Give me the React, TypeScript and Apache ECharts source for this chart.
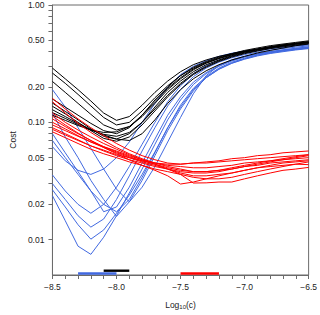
import React, { useEffect, useRef } from 'react';
import * as echarts from 'echarts';

const X = [-8.5, -8.4, -8.3, -8.2, -8.1, -8.0, -7.9, -7.8, -7.7, -7.6, -7.5, -7.4, -7.3, -7.2, -7.1, -7.0, -6.9, -6.8, -6.7, -6.6, -6.5];

const BLACK = [
  [0.29, 0.235, 0.19, 0.152, 0.12, 0.104, 0.112, 0.14, 0.18, 0.225, 0.27, 0.31, 0.34, 0.365, 0.385, 0.405, 0.42, 0.44, 0.455, 0.47, 0.48],
  [0.263, 0.215, 0.173, 0.138, 0.11, 0.095, 0.1, 0.125, 0.162, 0.205, 0.25, 0.29, 0.325, 0.355, 0.38, 0.4, 0.42, 0.435, 0.45, 0.465, 0.478],
  [0.223, 0.18, 0.145, 0.117, 0.095, 0.086, 0.092, 0.115, 0.15, 0.195, 0.24, 0.285, 0.32, 0.35, 0.375, 0.4, 0.42, 0.44, 0.455, 0.47, 0.485],
  [0.158, 0.135, 0.115, 0.098, 0.085, 0.08, 0.09, 0.115, 0.155, 0.2, 0.25, 0.295, 0.33, 0.36, 0.385, 0.41, 0.43, 0.45, 0.465, 0.48, 0.495],
  [0.146, 0.124, 0.105, 0.088, 0.076, 0.072, 0.08, 0.1, 0.135, 0.18, 0.225, 0.27, 0.31, 0.34, 0.37, 0.395, 0.415, 0.435, 0.45, 0.465, 0.478],
  [0.137, 0.118, 0.1, 0.085, 0.073, 0.069, 0.075, 0.095, 0.125, 0.165, 0.21, 0.255, 0.295, 0.33, 0.36, 0.385, 0.405, 0.425, 0.44, 0.455, 0.47],
  [0.128, 0.112, 0.098, 0.087, 0.078, 0.072, 0.07, 0.08, 0.105, 0.145, 0.19, 0.235, 0.275, 0.31, 0.34, 0.365, 0.39, 0.41, 0.43, 0.45, 0.465],
  [0.121, 0.108, 0.096, 0.086, 0.079, 0.076, 0.082, 0.1, 0.13, 0.17, 0.215, 0.26, 0.3, 0.335, 0.365, 0.39, 0.41, 0.43, 0.448, 0.463, 0.476],
  [0.115, 0.104, 0.094, 0.086, 0.082, 0.083, 0.092, 0.112, 0.145, 0.19, 0.235, 0.28, 0.32, 0.35, 0.378, 0.4, 0.42, 0.44, 0.458, 0.472, 0.488],
];

const BLUE = [
  [0.19, 0.135, 0.09, 0.06, 0.04, 0.027, 0.021, 0.028, 0.042, 0.068, 0.11, 0.175, 0.25, 0.305, 0.342, 0.366, 0.384, 0.398, 0.41, 0.42, 0.43],
  [0.062, 0.047, 0.039, 0.036, 0.04, 0.05, 0.068, 0.1, 0.145, 0.2, 0.255, 0.3, 0.335, 0.365, 0.388, 0.405, 0.42, 0.433, 0.444, 0.454, 0.462],
  [0.12, 0.075, 0.05, 0.032, 0.022, 0.0158, 0.021, 0.032, 0.052, 0.085, 0.13, 0.185, 0.24, 0.285, 0.32, 0.348, 0.372, 0.39, 0.405, 0.418, 0.43],
  [0.0237, 0.0145, 0.0088, 0.0075, 0.0105, 0.016, 0.025, 0.04, 0.065, 0.105, 0.155, 0.21, 0.26, 0.3, 0.333, 0.36, 0.382, 0.4, 0.415, 0.428, 0.44],
  [0.0266, 0.019, 0.0134, 0.0101, 0.0121, 0.0168, 0.024, 0.036, 0.056, 0.09, 0.135, 0.19, 0.24, 0.283, 0.318, 0.345, 0.368, 0.386, 0.4, 0.414, 0.425],
  [0.03, 0.022, 0.016, 0.0128, 0.015, 0.022, 0.035, 0.057, 0.09, 0.138, 0.19, 0.245, 0.29, 0.326, 0.355, 0.378, 0.396, 0.412, 0.426, 0.437, 0.448],
  [0.0356, 0.026, 0.02, 0.0168, 0.02, 0.028, 0.042, 0.065, 0.1, 0.15, 0.205, 0.26, 0.305, 0.34, 0.368, 0.39, 0.408, 0.423, 0.436, 0.447, 0.456],
  [0.08, 0.055, 0.038, 0.026, 0.0173, 0.019, 0.028, 0.045, 0.072, 0.115, 0.165, 0.22, 0.265, 0.305, 0.337, 0.362, 0.382, 0.4, 0.413, 0.425, 0.436],
  [0.07, 0.05, 0.036, 0.026, 0.02, 0.0173, 0.022, 0.034, 0.055, 0.09, 0.14, 0.195, 0.245, 0.29, 0.325, 0.352, 0.375, 0.393, 0.407, 0.42, 0.432],
];

const RED = [
  [0.16, 0.13, 0.107, 0.09, 0.077, 0.066, 0.058, 0.052, 0.048, 0.045, 0.044, 0.045, 0.046, 0.047, 0.049, 0.05, 0.052, 0.053, 0.055, 0.056, 0.057],
  [0.15, 0.12, 0.098, 0.082, 0.07, 0.061, 0.054, 0.049, 0.045, 0.042, 0.04, 0.038, 0.038, 0.039, 0.041, 0.043, 0.045, 0.047, 0.049, 0.051, 0.053],
  [0.12, 0.1, 0.086, 0.075, 0.066, 0.059, 0.053, 0.048, 0.044, 0.04, 0.036, 0.0304, 0.0305, 0.031, 0.031, 0.033, 0.035, 0.037, 0.039, 0.04, 0.0413],
  [0.113, 0.095, 0.081, 0.07, 0.061, 0.054, 0.048, 0.043, 0.039, 0.035, 0.0298, 0.031, 0.033, 0.035, 0.037, 0.039, 0.041, 0.042, 0.043, 0.044, 0.0436],
  [0.107, 0.092, 0.08, 0.07, 0.062, 0.056, 0.051, 0.047, 0.044, 0.041, 0.039, 0.038, 0.038, 0.039, 0.04, 0.042, 0.043, 0.045, 0.046, 0.047, 0.048],
  [0.1, 0.088, 0.077, 0.068, 0.061, 0.055, 0.05, 0.046, 0.043, 0.04, 0.037, 0.035, 0.035, 0.036, 0.037, 0.039, 0.041, 0.043, 0.045, 0.046, 0.047],
  [0.095, 0.085, 0.076, 0.068, 0.062, 0.057, 0.052, 0.048, 0.045, 0.043, 0.042, 0.041, 0.041, 0.042, 0.043, 0.045, 0.046, 0.047, 0.048, 0.049, 0.05],
  [0.09, 0.08, 0.071, 0.063, 0.057, 0.052, 0.048, 0.045, 0.042, 0.04, 0.038, 0.037, 0.037, 0.038, 0.04, 0.042, 0.044, 0.046, 0.048, 0.05, 0.052],
  [0.087, 0.078, 0.07, 0.063, 0.058, 0.053, 0.05, 0.047, 0.045, 0.044, 0.044, 0.045, 0.045, 0.046, 0.047, 0.048, 0.049, 0.05, 0.051, 0.052, 0.053],
  [0.083, 0.074, 0.066, 0.059, 0.054, 0.05, 0.046, 0.043, 0.04, 0.038, 0.036, 0.034, 0.033, 0.033, 0.034, 0.036, 0.038, 0.04, 0.042, 0.044, 0.046],
];

const BLUE_RANGE = [-8.3, -8.0];
const BLACK_RANGE = [-8.1, -7.9];
const RED_RANGE = [-7.5, -7.2];

const Y_MAJOR = [0.01, 0.02, 0.05, 0.1, 0.2, 0.5, 1];
const Y_TICKS = [0.01, 0.02, 0.03, 0.04, 0.05, 0.06, 0.07, 0.08, 0.09, 0.1, 0.2, 0.3, 0.4, 0.5, 0.6, 0.7, 0.8, 0.9, 1];
const X_LABELS = [-8.5, -8.0, -7.5, -7.0, -6.5];

const FONT = 'Liberation Sans, Arial, Helvetica, sans-serif';
const AXIS_COLOR = '#6b6b6b';
const TEXT_COLOR = '#222';

function fmtX(v: number) {
  const s = Math.abs(v).toFixed(1);
  return v < 0 ? '\u2212' + s : s;
}

export default function App() {
  const ref = useRef<HTMLDivElement>(null);
  useEffect(() => {
    if (!ref.current) return;
    const chart = echarts.init(ref.current, null, { renderer: 'svg' });

    const lineSeries = (groups: number[][], color: string) =>
      groups.map((vals) => ({
        type: 'line',
        xAxisIndex: 0,
        yAxisIndex: 0,
        data: X.map((x, i) => [x, vals[i]]),
        showSymbol: false,
        symbol: 'none',
        silent: true,
        clip: true,
        lineStyle: { color, width: 1 },
        z: 2,
      }));

    const rangeSeries = (range: number[], color: string, offset: number) => ({
      type: 'custom',
      xAxisIndex: 0,
      yAxisIndex: 1,
      silent: true,
      clip: false,
      z: 5,
      data: [[range[0], range[1], 0]],
      encode: { x: [0, 1], y: 2 },
      renderItem: (_p: any, api: any) => {
        const a = api.coord([api.value(0), 0]);
        const b = api.coord([api.value(1), 0]);
        return {
          type: 'line',
          shape: { x1: a[0], y1: a[1] - offset, x2: b[0], y2: b[1] - offset },
          style: { stroke: color, lineWidth: 2.4 },
        };
      },
    });

    const option: any = {
      animation: false,
      grid: {
        left: 40,
        right: 11,
        top: 5,
        bottom: 40,
        show: true,
        borderColor: AXIS_COLOR,
        borderWidth: 1,
        backgroundColor: 'transparent',
      },
      xAxis: [
        {
          type: 'value',
          min: -8.5,
          max: -6.5,
          interval: 0.1,
          axisLine: { show: true, onZero: false, lineStyle: { color: AXIS_COLOR, width: 1 } },
          axisTick: { show: true, length: 4, lineStyle: { color: AXIS_COLOR } },
          splitLine: { show: false },
          axisLabel: {
            customValues: X_LABELS,
            formatter: (v: number) => fmtX(v),
            color: TEXT_COLOR,
            fontSize: 8.5,
            fontFamily: FONT,
            margin: 7,
          },
          name: 'Log{sub|10}(c)',
          nameLocation: 'middle',
          nameGap: 25,
          nameTextStyle: {
            color: TEXT_COLOR,
            fontSize: 8.5,
            fontFamily: FONT,
            rich: {
              sub: { fontSize: 6, fontFamily: FONT, color: TEXT_COLOR, verticalAlign: 'bottom', padding: [4, 0, 0, 0] },
            },
          },
        },
      ],
      yAxis: [
        {
          type: 'log',
          logBase: 10,
          min: 0.005,
          max: 1,
          axisLine: { show: true, onZero: false, lineStyle: { color: AXIS_COLOR, width: 1 } },
          axisTick: { show: true, length: 4, customValues: Y_TICKS, lineStyle: { color: AXIS_COLOR } },
          splitLine: { show: false },
          minorTick: { show: false },
          axisLabel: {
            customValues: Y_MAJOR,
            formatter: (v: number) => Number(v).toFixed(2),
            color: TEXT_COLOR,
            fontSize: 8.5,
            fontFamily: FONT,
            margin: 8,
          },
          name: 'Cost',
          nameLocation: 'middle',
          nameGap: 29,
          nameTextStyle: { color: TEXT_COLOR, fontSize: 8.5, fontFamily: FONT },
        },
        {
          type: 'value',
          min: 0,
          max: 1,
          show: false,
        },
      ],
      series: [
        ...lineSeries(BLUE, '#4169e1'),
        ...lineSeries(BLACK, '#000000'),
        ...lineSeries(RED, '#ff0000'),
        rangeSeries(BLUE_RANGE, '#4169e1', 1.5),
        rangeSeries(BLACK_RANGE, '#000000', 4.3),
        rangeSeries(RED_RANGE, '#ff0000', 1.5),
      ],
    };
    chart.setOption(option);
    return () => chart.dispose();
  }, []);

  return (
    <div
      ref={ref}
      style={{ position: 'absolute', left: 0, top: 0, width: 320, height: 315 }}
    />
  );
}
